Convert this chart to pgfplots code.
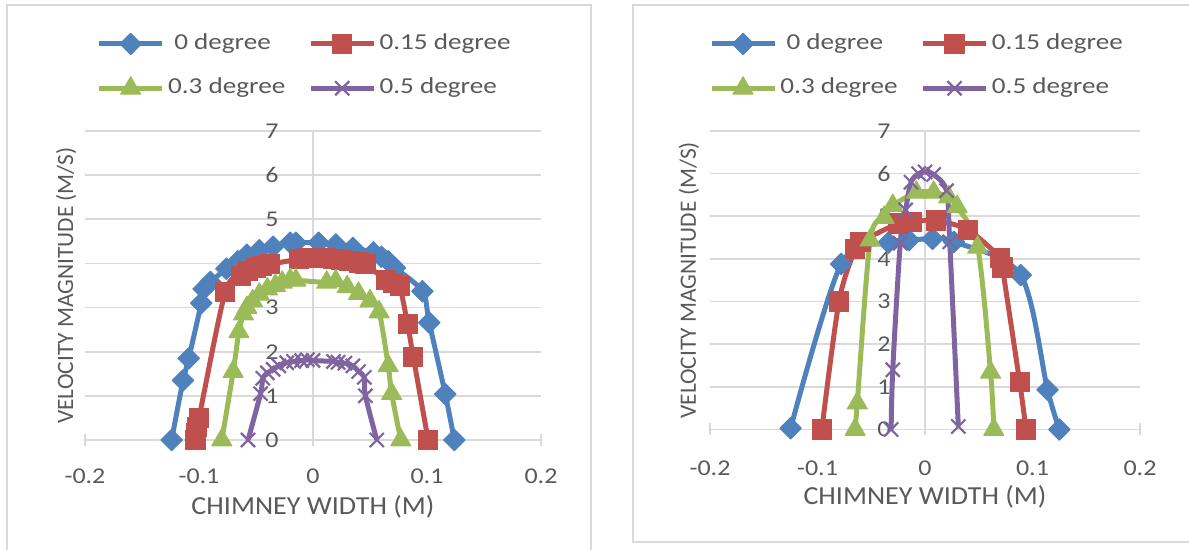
\documentclass[border=0pt]{standalone}
\usepackage{pgfplots}
\pgfplotsset{compat=1.18}
\usepackage{fontspec}
\setmainfont{Carlito}[FakeStretch=1.08]
\newfontfamily\ylabfont{Carlito}
\newfontfamily\legfont{Carlito}[FakeStretch=1.19]
\newfontfamily\tickfont{Carlito}[FakeStretch=1.15]
\definecolor{cblue}{HTML}{4F81BD}
\definecolor{cred}{HTML}{C0504D}
\definecolor{cgreen}{HTML}{9BBB59}
\definecolor{cpurple}{HTML}{8064A2}
\definecolor{gridc}{HTML}{D9D9D9}
\definecolor{txt}{HTML}{595959}

\pgfplotsset{
 layers/mylayers/.define layer set={axis background,axis grid,axis ticks,axis lines,main,axis tick labels,axis descriptions,axis foreground}{},
 excel/.style={
   set layers=mylayers,
   scale only axis,
   axis lines=middle,
   axis line style={draw=gridc, line width=0.8pt, -},
   xmin=-0.2, xmax=0.2, ymin=0, ymax=7,
   xtick={-0.2,-0.1,0,0.1,0.2},
   ytick={0,1,...,7},
   hide obscured x ticks=false, hide obscured y ticks=false,
   ymajorgrids, major grid style={draw=gridc, line width=0.8pt},
   tick align=center, major tick length=6pt,
   xtick style={draw=gridc, line width=0.8pt},
   ytick style={draw=none},
   tick label style={font=\tickfont\fontsize{11.3}{14}\selectfont, text=txt, inner sep=0pt},
   /pgf/number format/assume math mode=true,
   yticklabel style={anchor=east, xshift=-14pt},
   legend columns=2,
   legend cell align=left,
   legend style={draw=none, fill=none, anchor=north west, inner sep=0pt, outer sep=0pt,
     font=\legfont\fontsize{11.4}{13}\selectfont, text=txt,
     row sep=11pt,
     nodes={inner sep=0pt, text height=8pt, text depth=2.5pt},
     /tikz/every odd column/.append style={column sep=1.7pt},
     /tikz/every even column/.append style={column sep=11.5pt}},
   legend image code/.code={\draw[##1, mark repeat=2, mark phase=2] plot coordinates {(0pt,0pt)(15.75pt,0pt)(31.5pt,0pt)};},
 },
 s0/.style={cblue, line width=2.5pt, line join=round, smooth, tension=0.5, mark=square*, mark size=3.8pt, mark options={rotate=45, solid, line width=0.5pt, fill=cblue}},
 s1/.style={cred, line width=2.5pt, line join=round, smooth, tension=0.5, mark=square*, mark size=4.8pt, mark options={solid, line width=0.5pt, fill=cred}},
 s2/.style={cgreen, line width=2.5pt, line join=round, smooth, tension=0.5, mark=triangle*, mark size=5.8pt, mark options={solid, line width=0.5pt, fill=cgreen}},
 s3/.style={cpurple, line width=2.5pt, line join=round, smooth, tension=0.5, mark=x, mark size=5pt, mark options={solid, line width=1.1pt}},
}

\begin{document}
\begin{tikzpicture}
\draw[gridc, line width=1pt] (3.5pt,-2.5pt) rectangle (295.5pt,-285pt);
\draw[gridc, line width=1pt] (316.5pt,-2.5pt) rectangle (605pt,-271pt);

% ---------------- left chart ----------------
\begin{axis}[excel, at={(42.5pt,-220pt)}, anchor=south west, width=228pt, height=154.5pt,
  legend style={at={(axis description cs:0.0257,1.3165)}},
  xticklabel style={anchor=center, yshift=-15pt},
  xlabel={CHIMNEY WIDTH (M)}, ylabel={VELOCITY MAGNITUDE (M/S)},
  every axis x label/.style={at={(axis description cs:0.5,-0.2168)}, anchor=center, font=\fontsize{13}{15}\selectfont, text=txt},
  every axis y label/.style={at={(axis description cs:-0.041,0.5)}, rotate=90, anchor=center, font=\ylabfont\fontsize{11.7}{14}\selectfont, text=txt}]
\addplot[s0] coordinates {(-0.124,0) (-0.114,1.35) (-0.109,1.85) (-0.098,3.1) (-0.096,3.42) (-0.090,3.58) (-0.076,3.88) (-0.066,4.05) (-0.058,4.2) (-0.047,4.3) (-0.035,4.38) (-0.020,4.47) (-0.015,4.47) (0.005,4.47) (0.020,4.43) (0.035,4.35) (0.053,4.25) (0.060,4.15) (0.066,4.05) (0.072,3.9) (0.096,3.37) (0.102,2.66) (0.116,1.04) (0.124,0)};
\addlegendentry{\ 0 degree}
\addplot[s1] coordinates {(-0.103,0) (-0.1025,0.15) (-0.102,0.3) (-0.100,0.5) (-0.077,3.35) (-0.063,3.72) (-0.057,3.82) (-0.050,3.9) (-0.045,3.95) (-0.038,3.98) (-0.012,4.10) (-0.005,4.12) (0.003,4.13) (0.010,4.12) (0.018,4.10) (0.025,4.07) (0.032,4.05) (0.040,4.02) (0.046,3.98) (0.064,3.62) (0.070,3.55) (0.076,3.48) (0.083,2.62) (0.088,1.88) (0.101,0)};
\addlegendentry{0.15 degree}
\addplot[s2] coordinates {(-0.080,0) (-0.070,1.55) (-0.065,2.45) (-0.061,2.85) (-0.058,3.0) (-0.053,3.15) (-0.047,3.3) (-0.040,3.42) (-0.033,3.5) (-0.027,3.57) (-0.020,3.63) (-0.015,3.62) (0.012,3.57) (0.020,3.60) (0.030,3.47) (0.040,3.32) (0.050,3.15) (0.058,2.9) (0.066,1.68) (0.069,1.05) (0.077,0)};
\addlegendentry{0.3 degree}
\addplot[s3] coordinates {(-0.057,0) (-0.046,1.05) (-0.044,1.4) (-0.040,1.52) (-0.035,1.6) (-0.030,1.68) (-0.023,1.75) (-0.017,1.78) (-0.010,1.80) (-0.005,1.82) (0.000,1.80) (0.018,1.78) (0.022,1.76) (0.028,1.74) (0.035,1.68) (0.040,1.55) (0.045,1.42) (0.046,1.0) (0.056,0)};
\addlegendentry{0.5 degree}
\end{axis}

% ---------------- right chart ----------------
\begin{axis}[excel, at={(355pt,-214.75pt)}, anchor=south west, width=215pt, height=149.25pt,
  legend style={at={(axis description cs:-0.0023,1.3276)}},
  xticklabel style={anchor=center, yshift=-16.25pt},
  xlabel={CHIMNEY WIDTH (M)}, ylabel={VELOCITY MAGNITUDE (M/S)},
  every axis x label/.style={at={(axis description cs:0.5,-0.226)}, anchor=center, font=\fontsize{13}{15}\selectfont, text=txt},
  every axis y label/.style={at={(axis description cs:-0.0488,0.5)}, rotate=90, anchor=center, font=\ylabfont\fontsize{11.7}{14}\selectfont, text=txt}]
\addplot[s0] coordinates {(-0.125,0.03) (-0.078,3.88) (-0.034,4.38) (-0.015,4.44) (0.007,4.47) (0.027,4.4) (0.089,3.62) (0.114,0.93) (0.125,0)};
\addlegendentry{\ 0 degree}
\addplot[s1] coordinates {(-0.096,0) (-0.080,3.0) (-0.065,4.23) (-0.060,4.4) (-0.025,4.83) (-0.012,4.87) (0.010,4.9) (0.040,4.68) (0.070,4.03) (0.072,3.8) (0.088,1.12) (0.094,0)};
\addlegendentry{0.15 degree}
\addplot[s2] coordinates {(-0.065,0) (-0.063,0.62) (-0.051,4.44) (-0.038,4.97) (-0.030,5.25) (-0.008,5.56) (0.008,5.56) (0.022,5.45) (0.030,5.22) (0.049,4.27) (0.061,1.34) (0.064,0)};
\addlegendentry{0.3 degree}
\addplot[s3] coordinates {(-0.0315,0) (-0.030,1.4) (-0.023,4.37) (-0.018,5.15) (-0.013,5.8) (-0.006,6.0) (0.000,6.04) (0.008,5.98) (0.020,5.6) (0.023,4.4) (0.031,0.07)};
\addlegendentry{0.5 degree}
\end{axis}
\pgfresetboundingbox
\useasboundingbox (0,0) rectangle (594.5pt,-275pt);
\end{tikzpicture}
\end{document}
